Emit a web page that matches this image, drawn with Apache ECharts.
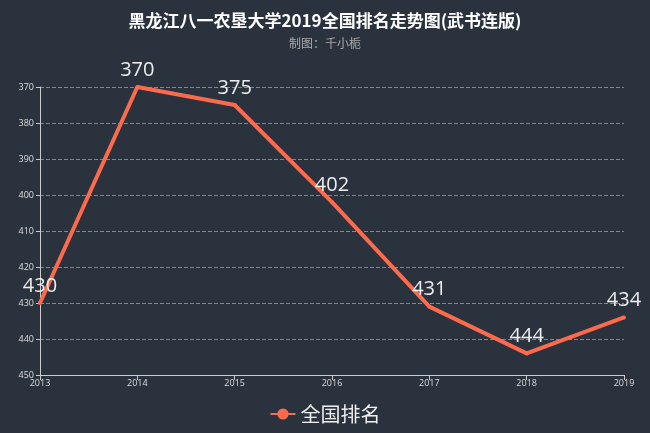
<!DOCTYPE html>
<html><head><meta charset="utf-8">
<script src="https://cdn.jsdelivr.net/npm/echarts@6/dist/echarts.min.js"></script>
<style>html,body{margin:0;padding:0;background:#29323d}#c{width:650px;height:433px}</style>
</head><body><div id="c"></div>
<script>
const years = ['2013','2014','2015','2016','2017','2018','2019'];
const ranks = [430, 370, 375, 402, 431, 444, 434];
const seriesName = '全国排名';
const titleText = '黑龙江八一农垦大学2019全国排名走势图(武书连版)';
const subText = '制图：千小栀';

const chart = echarts.init(document.getElementById('c'));
chart.setOption({
  backgroundColor: '#29323d',
  title: {
    text: titleText, subtext: subText, left: 'center', top: 7,
    textStyle: {color: '#ffffff', fontSize: 17, fontWeight: 'bold', fontFamily: 'Noto Sans CJK SC'},
    subtextStyle: {color: '#aaaaaa', fontSize: 12, fontFamily: 'Noto Sans CJK SC'},
    itemGap: 8
  },
  legend: {
    data: [seriesName], bottom: 4, left: 'center',
    textStyle: {color: '#eeeeee', fontSize: 20, fontFamily: 'Noto Sans CJK SC'},
    itemWidth: 25, itemHeight: 14
  },
  grid: {left: 40, right: 26, top: 87, bottom: 58},
  xAxis: {
    type: 'category', data: years, boundaryGap: false,
    axisLine: {lineStyle: {color: '#cccccc'}},
    axisTick: {lineStyle: {color: '#cccccc'}},
    axisLabel: {color: '#dddddd', fontSize: 9, margin: 4, fontFamily: 'Open Sans'}
  },
  yAxis: {
    type: 'value', inverse: true, min: 370, max: 450, interval: 10,
    axisLine: {show: true, lineStyle: {color: '#cccccc'}},
    axisTick: {show: true, length: 4, lineStyle: {color: '#cccccc'}},
    axisLabel: {color: '#dddddd', fontSize: 9, margin: 6, fontFamily: 'Open Sans'},
    splitLine: {lineStyle: {color: '#888888', type: 'dashed'}}
  },
  series: [{
    name: seriesName, type: 'line', data: ranks,
    symbol: 'circle', symbolSize: 4,
    itemStyle: {color: '#fd6a4c'},
    lineStyle: {color: '#fd6a4c', width: 4},
    label: {show: true, position: 'top', color: '#eeeeee', fontSize: 20, distance: 5, fontFamily: 'Open Sans'}
  }]
});
</script></body></html>
